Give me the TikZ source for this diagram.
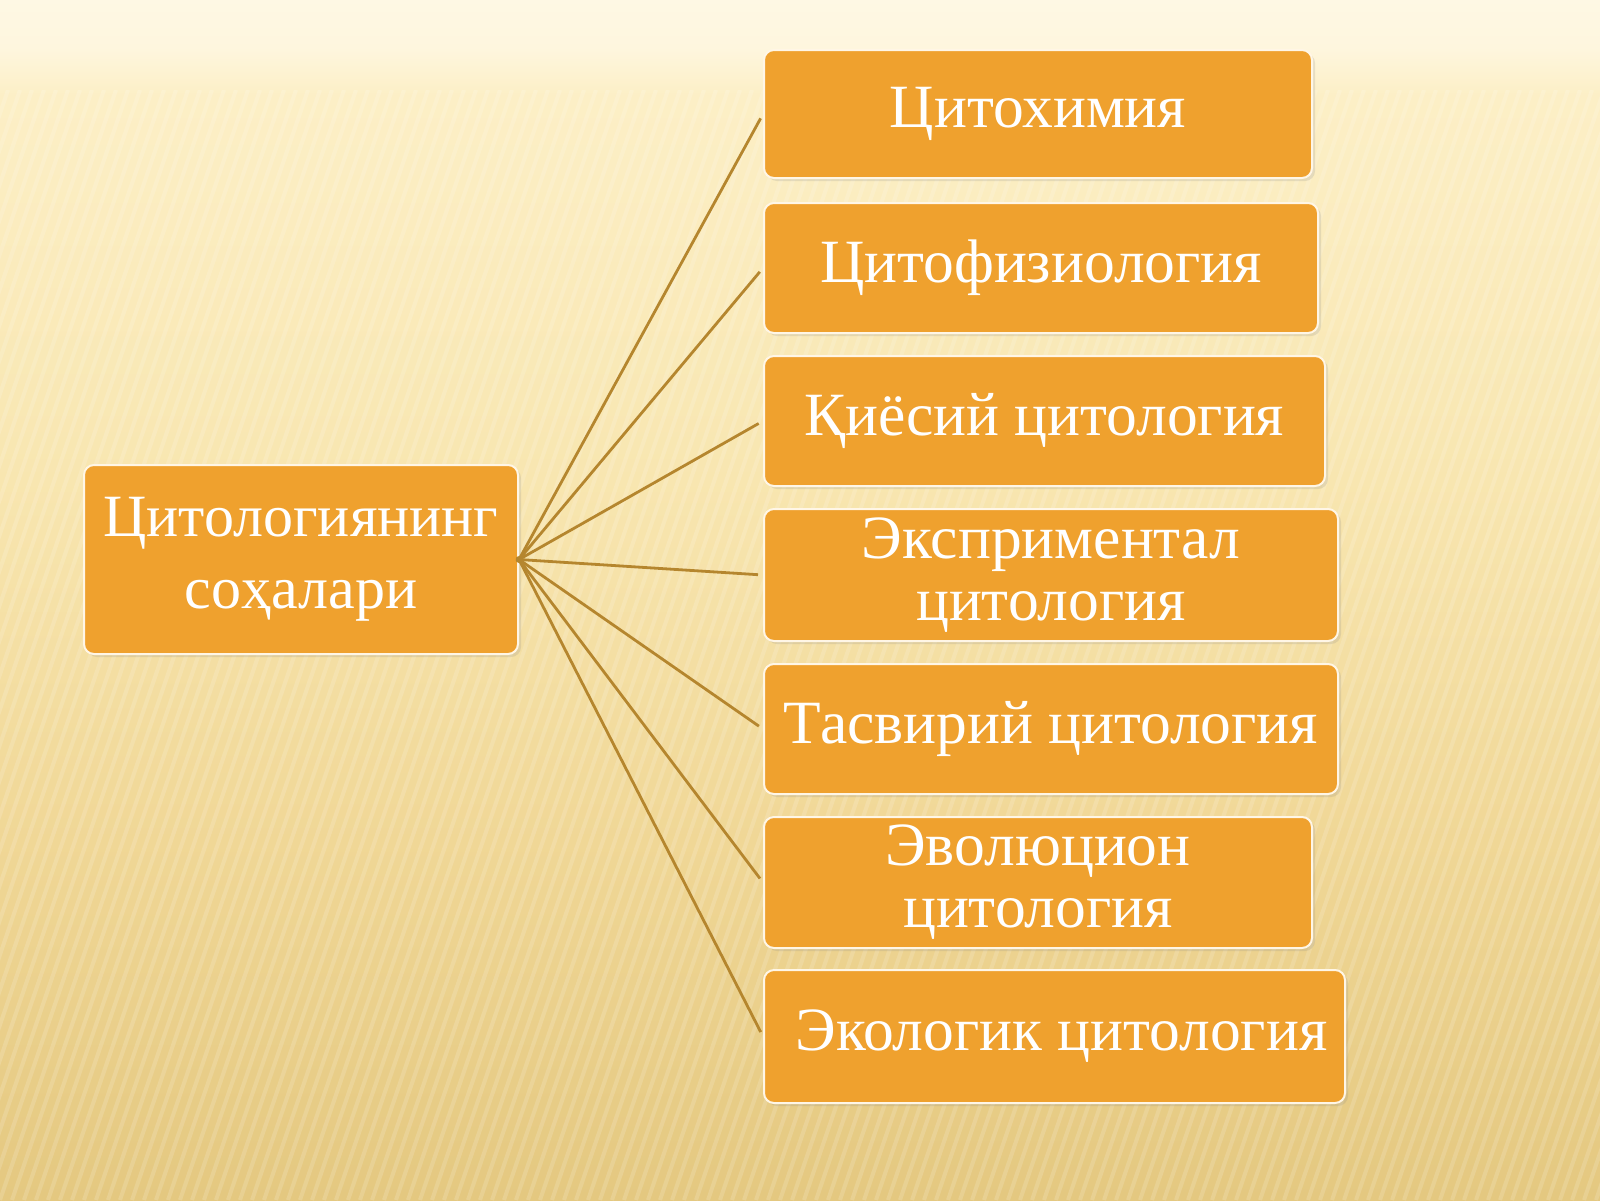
\documentclass[tikz,border=0pt]{standalone}
\usepackage{fontspec}
\setmainfont{Liberation Serif}
\usetikzlibrary{shadows}
\definecolor{boxfill}{HTML}{EFA12E}
\definecolor{boxrim}{HTML}{FFF6E6}
\definecolor{connc}{HTML}{B5862E}
\definecolor{bgA}{HTML}{E4C880}
\definecolor{bgB}{HTML}{F0D796}
\definecolor{bgC}{HTML}{F8E6B0}
\definecolor{bgD}{HTML}{FCEFC6}
\definecolor{bgE}{HTML}{FEF6DE}
\definecolor{bgF}{HTML}{FEF8E4}
\pgfdeclareverticalshading{bgshade}{100bp}{
  color(0bp)=(bgA);
  color(25bp)=(bgA);
  color(40bp)=(bgB);
  color(55bp)=(bgC);
  color(71bp)=(bgD);
  color(73bp)=(bgE);
  color(75bp)=(bgF);
  color(100bp)=(bgF)}
\begin{document}
\begin{tikzpicture}[x=1pt,y=1pt,
  stepbox/.style={draw=boxrim, line width=2pt, fill=boxfill, rounded corners=10pt,
     anchor=north west, inner sep=0pt, align=center, text=white,
     font=\fontsize{61.5}{62}\selectfont,
     drop shadow={opacity=0.18, shadow xshift=3pt, shadow yshift=-3pt}},
  conn/.style={draw=connc, line width=2.8pt, shorten >=5pt, shorten <=-3pt}]
% background
\useasboundingbox (0,0) rectangle (1600,-1200);
\shade[shading=bgshade] (0,0) rectangle (1600,-1200);
\begin{scope}
\clip (0,-90) rectangle (1600,-1200);
\foreach \i in {-60,...,160} {
  \draw[white, opacity=0.15, line width=4pt] (\i*12,-1200) -- ++(380,1110);
}
\end{scope}
% nodes
\node[stepbox, minimum width=434pt, minimum height=189pt, font=\fontsize{60}{72}\selectfont]
  (main) at (83,-464) {\raisebox{-6pt}{Цитологиянинг}\\\raisebox{-6pt}{соҳалари}};
\node[stepbox, minimum width=548pt, minimum height=128pt] (b1) at (763,-49) {\raisebox{-4pt}{Цитохимия}};
\node[stepbox, minimum width=554pt, minimum height=130pt] (b2) at (763,-202) {\raisebox{-4pt}{Цитофизиология}};
\node[stepbox, minimum width=561pt, minimum height=130pt] (b3) at (763,-355) {\raisebox{-4pt}{Қиёсий цитология}};
\node[stepbox, minimum width=574pt, minimum height=132pt] (b4) at (763,-508) {\raisebox{-3pt}{Эксприментал}\\\raisebox{-3pt}{цитология}};
\node[stepbox, minimum width=574pt, minimum height=130pt] (b5) at (763,-663) {\raisebox{-4pt}{Тасвирий цитология}};
\node[stepbox, minimum width=548pt, minimum height=131pt] (b6) at (763,-816) {\raisebox{-3pt}{Эволюцион}\\\raisebox{-3pt}{цитология}};
\node[stepbox, minimum width=581pt, minimum height=133pt] (b7) at (763,-969) {\raisebox{-4pt}{\hspace*{14pt}Экологик цитология}};
% connectors
\foreach \b in {b1,b2,b3,b4,b5,b6,b7} {
  \draw[conn] (main.east) -- (\b.west);
}
\end{tikzpicture}
\end{document}
